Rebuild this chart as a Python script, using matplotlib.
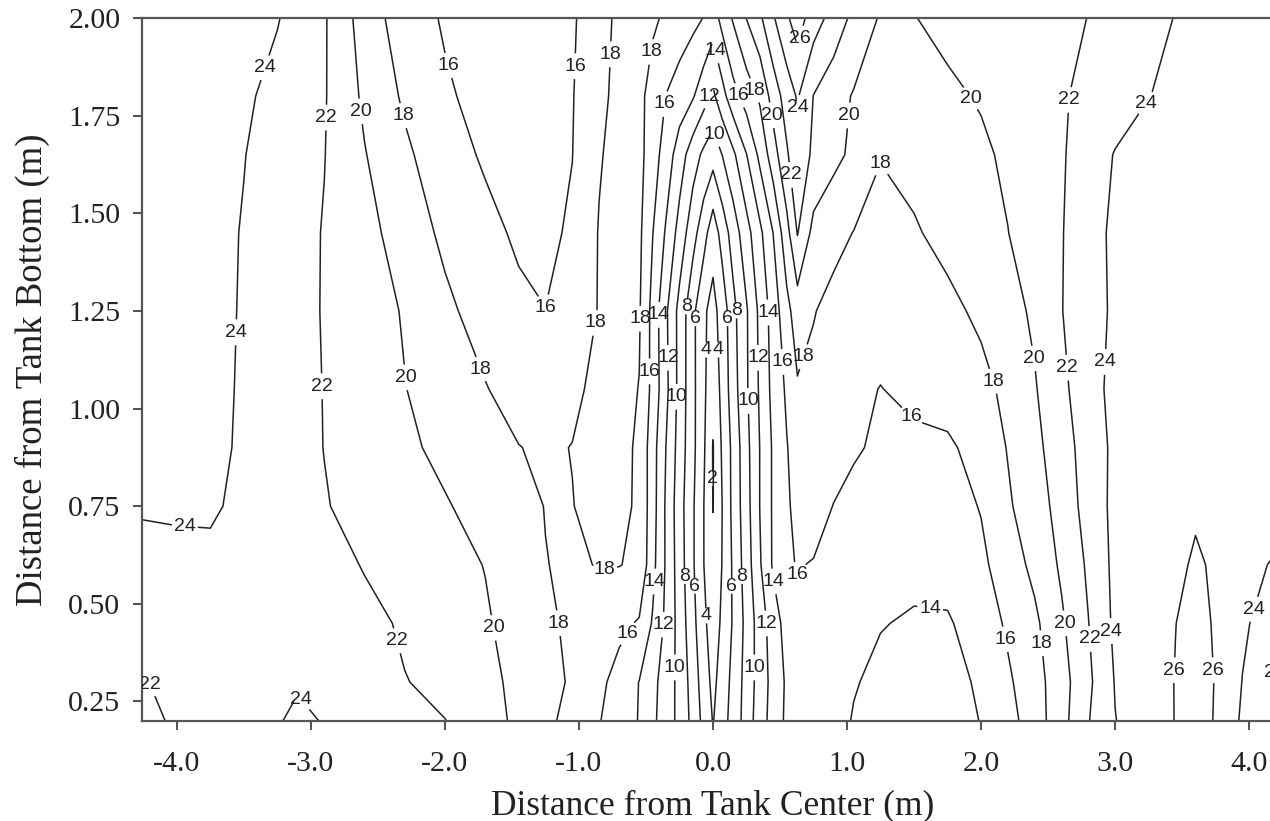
import numpy as np
import matplotlib
matplotlib.use("Agg")
import matplotlib.pyplot as plt

plt.rcParams['font.family'] = ['Liberation Sans', 'DejaVu Sans']
plt.rcParams['axes.unicode_minus'] = False

# grid columns: distance from tank centre (m)
x_pos = [-4.26, -4.0, -3.75, -3.5, -3.25, -3.1, -2.9, -2.6, -2.3, -2.0, -1.7, -1.45, -1.25, -1.05, -0.85, -0.7,
         -0.55, -0.45, -0.35, -0.25, -0.15, -0.07, 0.0, 0.07, 0.15, 0.25, 0.35, 0.45, 0.55,
         0.63, 0.75, 0.9, 1.05, 1.25, 1.5, 1.75, 2.0, 2.2, 2.4, 2.6, 2.8, 3.0, 3.25, 3.45, 3.6, 3.75, 3.95, 4.26]
# grid rows: distance from tank bottom (m)
y_pos = [0.20, 0.30, 0.45, 0.60, 0.75, 0.90, 1.05, 1.25, 1.45, 1.65, 1.80, 2.00]

t_y020 = [21.6, 22.2, 22.8, 23.3, 23.85, 24.4, 23.9, 23.2, 22.6, 22.05, 20.8, 19.6, 18.5, 17.3, 16.1, 15.0,
          13.9, 12.4, 11.0, 9.45, 7.4, 5.4, 3.9, 5.3, 6.7, 8.9, 11.1, 12.8, 14.4,
          15.0, 15.3, 14.8, 13.85, 13.3, 13.1, 13.3, 14.05, 15.3, 17.0, 19.3, 21.9, 23.95, 25.1, 26.05, 26.6, 25.9, 23.7, 21.3]
t_y030 = [21.9, 22.4, 22.9, 23.3, 23.6, 23.8, 23.6, 23.1, 22.1, 21.3, 20.45, 19.6, 18.7, 17.75, 16.45, 15.3,
          13.95, 12.55, 11.1, 9.4, 7.15, 5.0, 3.5, 4.9, 6.6, 8.75, 10.9, 12.7, 14.3,
          15.0, 15.4, 15.0, 14.15, 13.5, 13.2, 13.3, 14.3, 15.7, 17.2, 19.2, 21.6, 24.1, 25.2, 26.05, 26.5, 25.95, 23.95, 21.2]
t_y045 = [22.6, 23.0, 23.3, 23.5, 23.6, 23.6, 23.5, 22.9, 21.6, 20.95, 20.2, 19.3, 18.4, 17.6, 17.0, 16.5,
          15.8, 13.8, 11.55, 9.25, 6.6, 4.5, 2.9, 4.4, 6.2, 8.6, 11.0, 13.0, 14.8,
          15.5, 15.6, 15.3, 14.8, 14.1, 13.75, 13.8, 14.9, 16.3, 17.6, 19.7, 21.95, 24.4, 25.3, 25.98, 26.5, 25.85, 24.3, 22.6]
t_y060 = [23.5, 23.6, 23.75, 23.8, 23.7, 23.6, 23.3, 21.8, 21.2, 20.6, 19.95, 18.85, 18.05, 17.7, 18.1, 18.05,
          17.7, 14.6, 11.75, 9.0, 6.25, 4.05, 2.4, 4.1, 6.3, 9.0, 11.8, 14.3, 15.7,
          16.1, 15.9, 15.5, 15.2, 14.9, 14.6, 14.7, 15.6, 17.0, 18.5, 20.3, 22.3, 24.5, 25.2, 25.5, 26.3, 25.7, 24.6, 23.6]
t_y075 = [24.15, 24.2, 24.15, 23.75, 23.05, 22.65, 22.1, 21.45, 20.8, 20.15, 19.35, 18.6, 17.95, 17.95, 18.6, 18.5,
          17.7, 14.85, 11.7, 8.85, 6.25, 4.05, 1.95, 4.05, 6.55, 9.25, 12.05, 14.3, 15.7,
          16.6, 16.8, 15.95, 15.5, 15.2, 15.0, 15.2, 16.1, 17.75, 19.1, 20.7, 22.8, 24.5, 25.1, 25.3, 25.7, 25.4, 25.0, 24.6]
t_y090 = [24.6, 24.55, 24.45, 23.75, 23.0, 22.55, 21.97, 21.15, 20.35, 19.55, 18.75, 18.05, 17.7, 18.05, 18.7, 18.6,
          17.7, 14.85, 11.95, 9.15, 6.5, 4.3, 1.9, 4.3, 6.55, 9.4, 12.05, 14.3, 15.9,
          16.9, 17.4, 16.8, 16.2, 15.7, 15.55, 15.7, 16.7, 18.1, 19.5, 21.05, 22.95, 24.4, 25.0, 25.1, 25.2, 25.2, 25.1, 25.0]
t_y105 = [24.7, 24.6, 24.5, 23.8, 23.0, 22.55, 21.95, 21.0, 20.05, 19.1, 18.1, 17.2, 16.6, 17.5, 18.6, 18.6,
          17.95, 15.4, 12.5, 9.35, 6.5, 4.4, 2.65, 4.6, 7.1, 9.75, 12.3, 14.65, 16.3,
          17.8, 17.5, 16.9, 16.45, 15.95, 16.5, 16.8, 17.4, 18.5, 19.85, 21.5, 23.3, 24.5, 25.0, 25.1, 25.2, 25.2, 25.1, 25.0]
t_y125 = [24.8, 24.7, 24.55, 23.85, 23.0, 22.5, 21.9, 20.9, 19.85, 18.4, 17.2, 16.4, 16.02, 16.8, 18.1, 18.6,
          18.2, 15.35, 12.3, 9.35, 6.5, 4.3, 3.4, 4.8, 7.4, 9.8, 12.5, 14.9, 17.4,
          19.0, 18.1, 17.4, 17.1, 16.9, 17.0, 17.5, 18.4, 19.35, 20.3, 21.95, 23.0, 24.4, 25.0, 25.1, 25.2, 25.2, 25.1, 25.0]
t_y145 = [24.9, 24.75, 24.55, 23.9, 23.05, 22.6, 21.9, 20.65, 19.1, 17.6, 16.55, 15.7, 15.6, 16.25, 18.1, 18.7,
          18.4, 16.05, 13.75, 11.25, 8.75, 6.8, 4.8, 6.85, 8.9, 11.25, 13.55, 16.05, 19.3,
          22.1, 19.4, 18.6, 17.95, 17.6, 17.8, 18.6, 19.35, 19.97, 20.95, 21.9, 23.2, 24.4, 25.0, 25.1, 25.2, 25.2, 25.1, 25.0]
t_y165 = [25.0, 24.85, 24.6, 24.05, 23.25, 22.75, 22.05, 20.1, 18.35, 16.85, 15.75, 15.4, 15.5, 15.97, 17.85, 18.6,
          18.6, 16.9, 15.1, 13.0, 10.9, 9.6, 8.8, 10.05, 11.6, 13.95, 16.5, 19.1, 21.75,
          23.4, 21.6, 20.5, 19.6, 18.05, 18.6, 19.1, 19.7, 20.3, 21.1, 21.8, 23.0, 24.1, 24.9, 25.1, 25.2, 25.2, 25.1, 25.0]
t_y180 = [25.1, 24.9, 24.6, 24.3, 23.45, 22.9, 22.15, 19.65, 17.7, 16.25, 15.4, 15.2, 15.3, 15.9, 17.55, 18.5,
          18.5, 17.25, 15.95, 15.1, 14.18, 12.8, 11.6, 13.3, 15.3, 16.9, 18.3, 20.9, 22.9,
          24.2, 21.95, 20.8, 19.85, 19.5, 19.4, 19.7, 20.15, 20.8, 21.3, 21.8, 22.5, 23.1, 23.95, 24.5, 24.8, 25.0, 25.1, 25.1]
t_y200 = [25.3, 25.0, 24.7, 24.45, 24.1, 23.35, 22.2, 19.1, 16.95, 15.8, 15.3, 15.2, 15.3, 15.75, 17.3, 18.4,
          18.8, 18.3, 17.7, 17.1, 16.5, 15.95, 15.0, 16.7, 18.2, 20.05, 21.65, 23.8, 25.7,
          27.0, 24.95, 23.2, 21.5, 19.8, 19.95, 20.45, 20.8, 21.1, 21.4, 21.7, 22.02, 22.6, 23.5, 24.05, 24.4, 24.7, 25.0, 25.3]

levels = [2, 4, 6, 8, 10, 12, 14, 16, 18, 20, 22, 24, 26]

x_ticks = [-4.0, -3.0, -2.0, -1.0, 0.0, 1.0, 2.0, 3.0, 4.0]
y_ticks = [0.25, 0.50, 0.75, 1.00, 1.25, 1.50, 1.75, 2.00]

# where the contour labels sit
label_points = [
    (-3.32, 1.87), (-2.88, 1.745), (-2.65, 1.76), (-2.31, 1.75), (-2.0, 1.876), (-0.99, 1.876),
    (-0.77, 1.907), (-0.50, 1.915), (-0.365, 1.78), (0.0, 1.915), (-0.03, 1.80), (0.18, 1.80),
    (0.35, 1.82), (0.42, 1.75), (0.63, 1.77), (0.63, 1.95), (0.63, 1.60), (1.02, 1.75), (0.0, 1.70),
    (1.21, 1.64), (1.90, 1.79), (2.68, 1.79), (3.24, 1.78), (-3.55, 1.195), (-1.25, 1.25),
    (-0.895, 1.22), (-0.54, 1.23), (-0.38, 1.24), (-0.19, 1.26), (-0.11, 1.23), (0.10, 1.23),
    (0.19, 1.25), (0.42, 1.246), (-0.04, 1.15), (0.04, 1.15), (-0.47, 1.095), (-0.31, 1.13),
    (-0.26, 1.03), (0.37, 1.13), (0.30, 1.02), (0.55, 1.12), (0.70, 1.13), (-2.92, 1.057),
    (-2.29, 1.08), (-1.74, 1.10), (2.42, 1.13), (2.66, 1.105), (2.89, 1.12), (2.09, 1.07),
    (1.48, 0.98), (0.0, 0.82), (-3.94, 0.70), (-0.81, 0.59), (-0.43, 0.557), (-0.22, 0.57),
    (-0.12, 0.545), (0.0, 0.47), (0.14, 0.545), (0.25, 0.57), (0.50, 0.56), (0.70, 0.55),
    (-0.57, 0.41), (-0.38, 0.447), (-0.27, 0.337), (0.42, 0.45), (0.30, 0.337), (-1.61, 0.44),
    (-1.16, 0.45), (-2.46, 0.396), (-3.09, 0.25), (-4.16, 0.30), (1.62, 0.49), (2.19, 0.41),
    (2.48, 0.40), (2.62, 0.45), (2.81, 0.41), (2.96, 0.43), (3.44, 0.33), (3.74, 0.33),
    (4.0, 0.49), (4.15, 0.33),
]

Z = np.array([t_y020, t_y030, t_y045, t_y060, t_y075, t_y090, t_y105,
              t_y125, t_y145, t_y165, t_y180, t_y200])
X, Y = np.meshgrid(np.array(x_pos), np.array(y_pos))

fig = plt.figure(figsize=(12.7, 8.21), dpi=100)
ax = fig.add_axes([142 / 1270, 1 - 721 / 821, (1284 - 142) / 1270, (721 - 18) / 821])

cs = ax.contour(X, Y, Z, levels=levels, colors='#222222', linewidths=1.1)
texts = ax.clabel(cs, levels, inline=True, inline_spacing=2, fontsize=14,
                  fmt='%d', manual=label_points)
for t in texts:
    t.set_rotation(0)
    t.set_color('#222222')

ax.set_xlim(-4.26, 4.26)
ax.set_ylim(0.2, 2.0)
ax.set_xticks(x_ticks)
ax.set_xticklabels(['%.1f' % v for v in x_ticks])
ax.set_yticks(y_ticks)
ax.set_yticklabels(['%.2f' % v for v in y_ticks])

serif = 'Liberation Serif'
for lab in ax.get_xticklabels() + ax.get_yticklabels():
    lab.set_fontfamily(serif)
    lab.set_fontsize(21.5)
    lab.set_color('#222222')
ax.tick_params(axis='both', direction='out', length=6.5, width=1.5, color='#555555')
ax.tick_params(axis='x', pad=15)
ax.tick_params(axis='y', pad=9)

for side in ['left', 'bottom', 'top', 'right']:
    ax.spines[side].set_linewidth(1.6)
    ax.spines[side].set_color('#555555')

ax.set_xlabel('Distance from Tank Center (m)', fontfamily=serif, fontsize=25.5, color='#222222', labelpad=9)
ax.set_ylabel('Distance from Tank Bottom (m)', fontfamily=serif, fontsize=26.5, color='#222222', labelpad=13)

fig.savefig('out.png', dpi=100)
